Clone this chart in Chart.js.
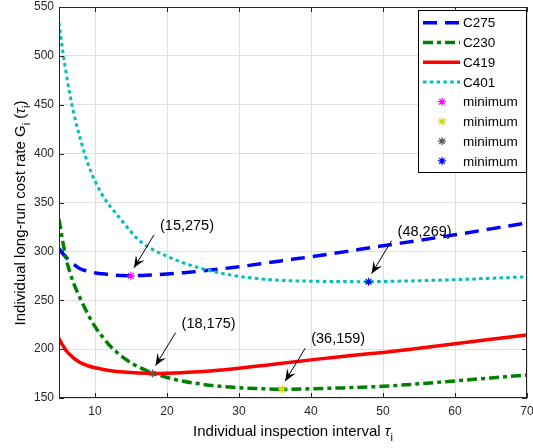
<!DOCTYPE html>
<html>
<head>
<meta charset="utf-8">
<script src="https://cdn.jsdelivr.net/npm/chart.js@4.4.1/dist/chart.umd.min.js"></script>
<style>
  html, body { margin: 0; padding: 0; background: #fff; }
  #wrap { width: 533px; height: 448px; }
</style>
</head>
<body>
<div id="wrap"><canvas id="grafico"></canvas></div>
<script>
// intervalo de inspeção (tau) e custos
const taus = [5, 5.5, 6, 6.5, 7, 8, 9, 10, 11, 12, 13, 14, 15, 16, 18, 20, 22, 25, 28, 30, 33, 36, 40, 45, 48, 50, 55, 60, 65, 70];
const c275 = [303, 298, 294, 290, 287, 282, 279.7, 278, 277, 276.2, 275.6, 275.2, 275, 275.2, 275.8, 276.8, 278, 280, 282.5, 284.3, 287.3, 290.5, 294.5, 300, 303.5, 305.8, 311.2, 317, 323, 329];
const c230 = [333, 311, 292, 279, 268, 251, 236, 223, 213, 204, 197, 191, 186, 182, 175.5, 171, 167.5, 164, 161.5, 160.5, 159.5, 159, 159.4, 160.5, 161.3, 162, 164.5, 167.5, 170.5, 173.5];
const c419 = [211, 204, 198.5, 194.5, 191, 186, 183, 181, 179.5, 178.2, 177.2, 176.5, 176, 175.6, 175.1, 175.3, 175.8, 177, 179, 180.5, 183, 185.5, 189, 193, 195.3, 196.6, 201, 205.5, 210, 214.5];
const c401 = [534, 506, 482, 461, 443, 414, 390, 372, 358, 347, 338, 329, 320, 312, 302, 295, 289, 282, 277, 274.5, 271.8, 270.3, 269.5, 269.1, 269, 269.2, 270, 271, 272.5, 274];

const nomes = ["C275", "C230", "C419", "C401"];
const minTau = [15, 36, 18, 48];
const minVal = [275, 159, 175, 269];
const xTicks = [10, 20, 30, 40, 50, 60, 70];
const yTicks = [150, 200, 250, 300, 350, 400, 450, 500, 550];

const fonte = '"Liberation Sans", Arial, sans-serif';
const eixoCor = "#262626";

const pontos = serie => taus.map((t, i) => ({ x: t, y: serie[i] }));

const estilos = [
    { borderColor: "#0000ff", borderWidth: 3.5, borderDash: [14, 8] },
    { borderColor: "#008000", borderWidth: 3.5, borderDash: [10, 4, 4, 4] },
    { borderColor: "#ff0000", borderWidth: 3.5, borderDash: [] },
    { borderColor: "#00bfbf", borderWidth: 3, borderDash: [3.5, 3.3] }
];
const corMin = ["#ff00ff", "#d4d400", "#555555", "#0000ff"];

const datasets = [];
[c275, c230, c419, c401].forEach((s, i) => {
    datasets.push({
        type: "line",
        label: nomes[i],
        data: pontos(s),
        ...estilos[i],
        pointRadius: 0,
        cubicInterpolationMode: "monotone",
        fill: false,
        order: 5 - i
    });
});
minTau.forEach((t, i) => {
    datasets.push({
        type: "scatter",
        label: "minimum",
        data: [{ x: t, y: minVal[i] }],
        pointStyle: "star",
        pointRadius: 4,
        borderWidth: 1.2,
        borderColor: corMin[i],
        backgroundColor: corMin[i],
        order: 0
    });
});

function linha(ctx, x1, y1, x2, y2) {
    ctx.beginPath();
    ctx.moveTo(x1, y1);
    ctx.lineTo(x2, y2);
    ctx.stroke();
}

// texto com partes em itálico / subscrito, desenhado em sequência
function textoRico(ctx, partes, x, y, tam) {
    let larg = 0;
    partes.forEach(p => {
        ctx.font = (p.it ? "italic " : "") + (p.sub ? tam * 0.75 : tam) + "px " + fonte;
        p.w = ctx.measureText(p.t).width;
        larg += p.w;
    });
    let cx = x - larg / 2;
    partes.forEach(p => {
        ctx.font = (p.it ? "italic " : "") + (p.sub ? tam * 0.75 : tam) + "px " + fonte;
        ctx.fillText(p.t, cx, y + (p.sub ? tam * 0.3 : 0));
        cx += p.w;
    });
}

const moldura = {
    id: "moldura",
    afterDraw(chart) {
        const { ctx, chartArea: a, scales: { x, y } } = chart;
        ctx.save();
        ctx.strokeStyle = eixoCor;
        ctx.lineWidth = 1;
        ctx.strokeRect(a.left + 0.5, a.top + 0.5, a.right - a.left - 1, a.bottom - a.top - 1);
        xTicks.forEach(v => {
            const px = Math.round(x.getPixelForValue(v)) + 0.5;
            linha(ctx, px, a.bottom, px, a.bottom - 5);
            linha(ctx, px, a.top, px, a.top + 5);
        });
        yTicks.forEach(v => {
            const py = Math.round(y.getPixelForValue(v)) + 0.5;
            linha(ctx, a.left, py, a.left + 5, py);
            linha(ctx, a.right, py, a.right - 5, py);
        });

        // anotações com seta
        ctx.fillStyle = "#000";
        ctx.strokeStyle = "#000";
        ctx.textAlign = "center";
        ctx.textBaseline = "middle";
        ctx.font = "14.5px " + fonte;
        minTau.forEach((t, i) => {
            const px = x.getPixelForValue(t);
            const py = y.getPixelForValue(minVal[i]);
            ctx.fillText("(" + t + "," + minVal[i] + ")", px + 56, py - 50);
            const x0 = px + 23, y0 = py - 41, x1 = px + 3, y1 = py - 8;
            ctx.lineWidth = 1;
            linha(ctx, x0, y0, x1, y1);
            const len = Math.hypot(x1 - x0, y1 - y0);
            const dx = (x1 - x0) / len, dy = (y1 - y0) / len;
            const L = 12, W = 5;
            ctx.beginPath();
            ctx.moveTo(x1, y1);
            ctx.lineTo(x1 - L * dx - W * dy, y1 - L * dy + W * dx);
            ctx.lineTo(x1 - L * 0.6 * dx, y1 - L * 0.6 * dy);
            ctx.lineTo(x1 - L * dx + W * dy, y1 - L * dy - W * dx);
            ctx.closePath();
            ctx.fill();
        });

        // legenda dentro da área
        const lx = 418, ly = a.top + 3, lw = a.right - lx, lh = 163;
        ctx.fillStyle = "#fff";
        ctx.fillRect(lx, ly, lw, lh);
        ctx.strokeStyle = "#000";
        ctx.lineWidth = 1;
        ctx.strokeRect(lx + 0.5, ly + 0.5, lw - 1, lh - 1);
        ctx.textAlign = "left";
        ctx.font = "13.5px " + fonte;
        chart.data.datasets.forEach((ds, i) => {
            const ry = ly + 12.7 + i * 19.75;
            ctx.save();
            ctx.strokeStyle = ds.borderColor;
            if (ds.type === "line") {
                ctx.lineWidth = ds.borderWidth;
                ctx.setLineDash(ds.borderDash);
                linha(ctx, lx + 5, ry, lx + 42, ry);
            } else {
                ctx.lineWidth = 1.2;
                Chart.helpers.drawPoint(ctx, { pointStyle: "star", radius: 4, borderWidth: 1.2 }, lx + 24, ry);
            }
            ctx.restore();
            ctx.fillStyle = "#000";
            ctx.fillText(ds.label, lx + 45, ry + 1);
        });

        // títulos dos eixos
        ctx.fillStyle = "#000";
        ctx.textAlign = "left";
        ctx.textBaseline = "alphabetic";
        textoRico(ctx, [
            { t: "Individual inspection interval " },
            { t: "τ", it: true },
            { t: "i", sub: true }
        ], (a.left + a.right) / 2, 436, 15);

        ctx.translate(25, 213);
        ctx.rotate(-Math.PI / 2);
        textoRico(ctx, [
            { t: "Individual long-run cost rate G" },
            { t: "i", sub: true },
            { t: " (" },
            { t: "τ", it: true },
            { t: "i", sub: true },
            { t: ")" }
        ], 0, 0, 15);
        ctx.restore();
    }
};

new Chart(document.getElementById("grafico"), {
    data: { datasets },
    options: {
        responsive: true,
        maintainAspectRatio: false,
        devicePixelRatio: 1,
        animation: false,
        layout: { padding: { top: 7, right: 6, left: 0, bottom: 0 } },
        plugins: { legend: { display: false }, tooltip: { enabled: false } },
        scales: {
            x: {
                type: "linear",
                min: 5,
                max: 70,
                afterBuildTicks: s => { s.ticks = xTicks.map(v => ({ value: v })); },
                afterFit: s => { s.height = 50; s.paddingLeft = 0; s.paddingRight = 0; },
                grid: { color: "#dfdfdf", drawTicks: false },
                border: { display: false },
                ticks: { padding: 6, color: eixoCor, font: { size: 12, family: fonte }, maxRotation: 0 }
            },
            y: {
                type: "linear",
                min: 150,
                max: 550,
                afterBuildTicks: s => { s.ticks = yTicks.map(v => ({ value: v })); },
                afterFit: s => { s.width = 59; s.paddingTop = 0; s.paddingBottom = 0; },
                grid: { color: "#dfdfdf", drawTicks: false },
                border: { display: false },
                ticks: { padding: 5, color: eixoCor, font: { size: 12, family: fonte } }
            }
        }
    },
    plugins: [moldura]
});
</script>
</body>
</html>
